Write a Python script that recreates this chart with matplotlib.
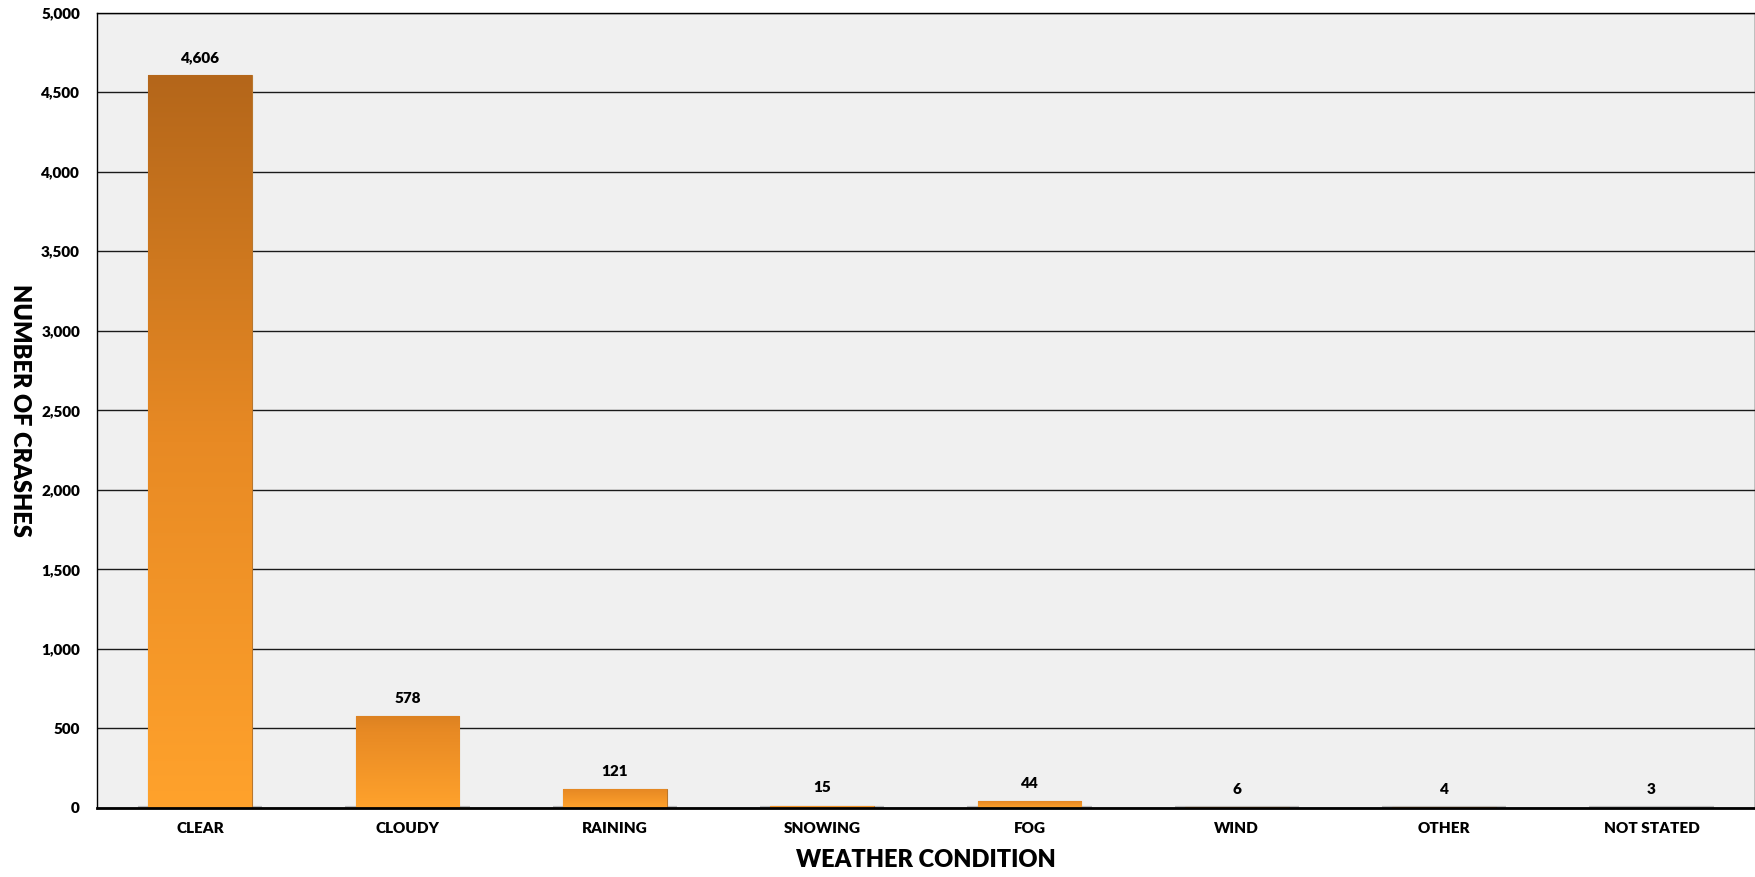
import numpy as np
import matplotlib.pyplot as plt
from matplotlib.colors import LinearSegmentedColormap

# data
conditions = ['CLEAR', 'CLOUDY', 'RAINING', 'SNOWING', 'FOG', 'WIND', 'OTHER', 'NOT STATED']
crashes = [4606, 578, 121, 15, 44, 6, 4, 3]

plt.rcParams['font.family'] = ['Lato', 'DejaVu Sans']

fig = plt.figure(figsize=(17.56, 8.77), dpi=100)
ax = fig.add_axes([0.055, 0.0787, 0.9445, 0.907])
ax.set_facecolor('#f0f0f0')

x = np.arange(len(conditions))
bars = ax.bar(x, crashes, width=0.5, color='#f08c22', edgecolor='#b8772f',
              linewidth=0.8, zorder=3)

# vertical gradient inside each bar, darker at the top of tall bars
cmap = LinearSegmentedColormap.from_list('orange', ['#ffa22c', '#e88a24', '#b4661a'])
top = max(crashes)
for b in bars:
    x0, w, h = b.get_x(), b.get_width(), b.get_height()
    t_top = 0.55 + 0.45 * h / top
    grad = np.linspace(0, t_top, 256).reshape(-1, 1)
    im = ax.imshow(grad, cmap=cmap, vmin=0, vmax=1, aspect='auto', origin='lower',
                   extent=(x0, x0 + w, 0, h), zorder=3.5)
    im.set_clip_path(b)
    # soft shadow under the bar
    ax.plot([x0 - 0.05, x0 + w + 0.05], [0, 0], color='#8a8a8a', lw=3,
            alpha=0.5, zorder=2, solid_capstyle='butt')

for xi, v in zip(x, crashes):
    ax.annotate(f'{v:,}', (xi, v), xytext=(0, 8), textcoords='offset points',
                ha='center', va='bottom', fontsize=11, fontweight='heavy')

ax.set_xlim(-0.5, len(conditions) - 0.5)
ax.set_ylim(0, 5000)
ax.set_yticks(np.arange(0, 5001, 500))
ax.yaxis.set_major_formatter(plt.FuncFormatter(lambda v, p: f'{int(v):,}'))
ax.set_xticks(x)
ax.set_xticklabels(conditions, fontsize=11, fontweight='heavy')
ax.tick_params(axis='y', labelsize=11, length=0, pad=12)
ax.tick_params(axis='x', length=0, pad=10)
for lab in ax.get_yticklabels():
    lab.set_fontweight('heavy')

ax.grid(axis='y', color='#1a1a1a', linewidth=1.0, zorder=1)
ax.set_axisbelow(True)

for s in ['top', 'left', 'right']:
    ax.spines[s].set_color('black')
    ax.spines[s].set_linewidth(1.0)
ax.spines['bottom'].set_linewidth(2.0)
ax.spines['bottom'].set_zorder(4)

ax.set_xlabel('WEATHER CONDITION', fontsize=17, fontweight='heavy', labelpad=10)
ax.set_ylabel('NUMBER OF CRASHES', fontsize=17, fontweight='heavy', rotation=-90,
              ha='center', va='center')
ax.yaxis.set_label_coords(-0.046, 0.5)

fig.savefig('out.png', dpi=100)
